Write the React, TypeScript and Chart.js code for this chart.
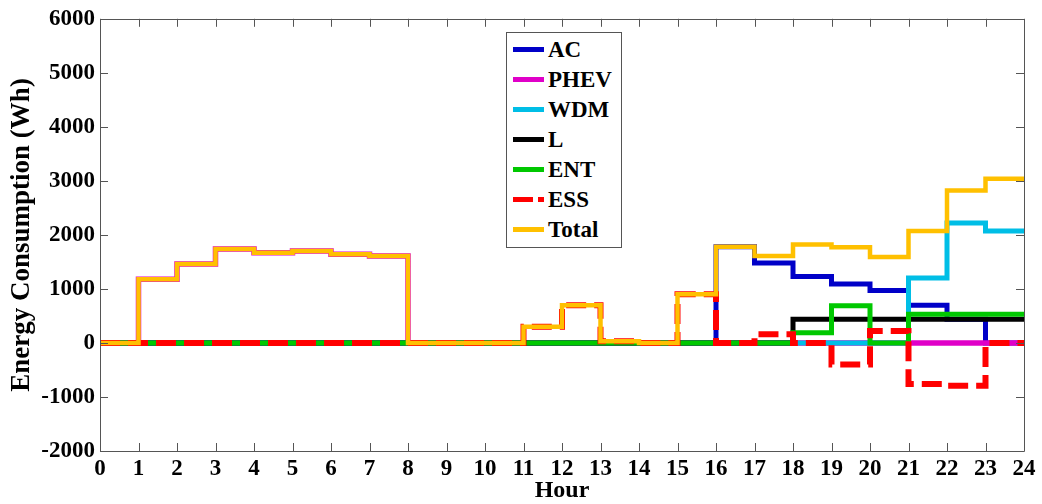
import React, { useEffect, useRef } from "react";
import { Chart, registerables } from "chart.js";

Chart.register(...registerables);

// Hour-by-hour values (value holds from hour h to h+1)
const hours = Array.from({ length: 25 }, (_, i) => i);
const xTickLabels = hours.map((h) => String(h));
const yTickValues = [-2000, -1000, 0, 1000, 2000, 3000, 4000, 5000, 6000];

const acValues = [0, 0, 0, 0, 0, 0, 0, 0, 0, 0, 0, 0, 0, 0, 0, 0, 1780, 1480, 1230, 1090, 970, 700, 440, 0];
const phevValues = [0, 1180, 1460, 1740, 1670, 1700, 1640, 1610, 0, 0, 0, 0, 0, 0, 0, 0, 0, 0, 0, 0, 0, 0, 0, 0];
const wdmValues = [0, 0, 0, 0, 0, 0, 0, 0, 0, 0, 0, 0, 0, 0, 0, 0, 0, 0, 0, 0, 0, 1200, 2220, 2070];
const lValues = [0, 0, 0, 0, 0, 0, 0, 0, 0, 0, 0, 0, 0, 0, 0, 0, 0, 0, 440, 440, 440, 440, 440, 440];
const entValues = [0, 0, 0, 0, 0, 0, 0, 0, 0, 0, 0, 0, 0, 0, 0, 0, 0, 0, 190, 690, 0, 530, 530, 530];
const essValues = [0, 0, 0, 0, 0, 0, 0, 0, 0, 0, 0, 300, 700, 30, 0, 900, 0, 160, 0, -400, 220, -760, -790, 0];
const totalValues = [0, 1180, 1460, 1740, 1670, 1700, 1640, 1610, 0, 0, 0, 300, 700, 30, 0, 900, 1780, 1610, 1820, 1770, 1590, 2070, 2820, 3040];

const seriesNames = ["AC", "PHEV", "WDM", "L", "ENT", "ESS", "Total"];
const seriesColors = ["#0000C8", "#E000C8", "#00BEE6", "#000000", "#00C800", "#FF0000", "#FFC000"];

const FONT = "'Liberation Serif', 'Times New Roman', serif";

function toSteps(values: number[]) {
  const pts = values.map((v, i) => ({ x: i, y: v }));
  pts.push({ x: values.length, y: values[values.length - 1] });
  return pts;
}

const framePlugin = {
  id: "frameTicks",
  afterDraw(chart: any) {
    const { ctx, chartArea, scales } = chart;
    const { left, right, top, bottom } = chartArea;
    const xs = scales.x;
    const ys = scales.y;
    const tl = 8;
    ctx.save();
    ctx.strokeStyle = "#555555";
    ctx.lineWidth = 1;
    ctx.beginPath();
    ctx.rect(Math.round(left) + 0.5, Math.round(top) + 0.5, Math.round(right - left), Math.round(bottom - top));
    hours.forEach((h) => {
      const px = Math.round(xs.getPixelForValue(h)) + 0.5;
      ctx.moveTo(px, bottom);
      ctx.lineTo(px, bottom - tl);
      ctx.moveTo(px, top);
      ctx.lineTo(px, top + tl);
    });
    yTickValues.forEach((v) => {
      const py = Math.round(ys.getPixelForValue(v)) + 0.5;
      ctx.moveTo(left, py);
      ctx.lineTo(left + tl, py);
      ctx.moveTo(right, py);
      ctx.lineTo(right - tl, py);
    });
    ctx.stroke();
    ctx.restore();
  },
};

export default function App() {
  const canvasRef = useRef<HTMLCanvasElement | null>(null);

  useEffect(() => {
    const canvas = canvasRef.current;
    if (!canvas) return;
    const widths = [5, 5.5, 5, 5, 5, 6, 4.5];
    const allValues = [acValues, phevValues, wdmValues, lValues, entValues, essValues, totalValues];
    const datasets = seriesNames
      .map((name, i) => ({
        label: name,
        data: toSteps(allValues[i]),
        borderColor: seriesColors[i],
        backgroundColor: seriesColors[i],
        borderWidth: widths[i],
        borderDash: name === "ESS" ? [20, 8] : [],
        borderCapStyle: "butt" as const,
        borderJoinStyle: "miter" as const,
        stepped: "before" as const,
        pointRadius: 0,
        fill: false,
      }))
      .reverse(); // first dataset is drawn on top, so Total first

    const chart = new Chart(canvas, {
      type: "line",
      data: { datasets },
      plugins: [framePlugin],
      options: {
        animation: false,
        responsive: false,
        maintainAspectRatio: false,
        layout: { padding: { top: 18, right: 18, left: 0, bottom: 0 } },
        plugins: { legend: { display: false }, tooltip: { enabled: false } },
        scales: {
          x: {
            type: "linear",
            min: 0,
            max: 24,
            afterFit: (s: any) => {
              s.height = 53;
            },
            grid: { display: false, drawTicks: false },
            border: { display: false },
            ticks: {
              stepSize: 1,
              autoSkip: false,
              maxRotation: 0,
              padding: 4,
              color: "#000",
              font: { family: FONT, size: 23, weight: "bold" },
              callback: (v: any) => xTickLabels[Number(v)] ?? "",
            },
            title: {
              display: true,
              text: "Hour",
              color: "#000",
              padding: { top: 0, bottom: -1 },
              font: { family: FONT, size: 24, weight: "bold" },
            },
          },
          y: {
            min: -2000,
            max: 6000,
            afterFit: (s: any) => {
              s.width = 100;
            },
            grid: { display: false, drawTicks: false },
            border: { display: false },
            ticks: {
              stepSize: 1000,
              padding: 5,
              color: "#000",
              font: { family: FONT, size: 23, weight: "bold" },
              callback: (v: any) => String(v),
            },
            title: {
              display: true,
              text: "Energy Consumption (Wh)",
              color: "#000",
              padding: { top: 6, bottom: 0 },
              font: { family: FONT, size: 27, weight: "bold" },
            },
          },
        },
      },
    });
    return () => chart.destroy();
  }, []);

  return (
    <div style={{ position: "fixed", left: 0, top: 0, width: 1042, height: 504, background: "#fff" }}>
      <canvas ref={canvasRef} width={1042} height={504} style={{ display: "block" }} />
      <div
        style={{
          position: "absolute",
          left: 506,
          top: 32,
          width: 116,
          height: 216,
          boxSizing: "border-box",
          border: "1px solid #555",
          background: "#fff",
          paddingTop: 1,
          fontFamily: FONT,
          fontWeight: "bold",
          fontSize: 23,
          color: "#000",
        }}
      >
        {seriesNames.map((name, i) => (
          <div key={name} style={{ height: 30, display: "flex", alignItems: "center", position: "relative" }}>
            {name === "ESS" ? (
              <>
                <span style={{ position: "absolute", left: 6, top: 13, width: 20, height: 5, background: seriesColors[i] }} />
                <span style={{ position: "absolute", left: 31, top: 13, width: 6, height: 5, background: seriesColors[i] }} />
              </>
            ) : (
              <span style={{ position: "absolute", left: 6, top: 13, width: 31, height: 5, background: seriesColors[i] }} />
            )}
            <span style={{ position: "absolute", left: 41, top: 1, lineHeight: "30px" }}>{name}</span>
          </div>
        ))}
      </div>
    </div>
  );
}
